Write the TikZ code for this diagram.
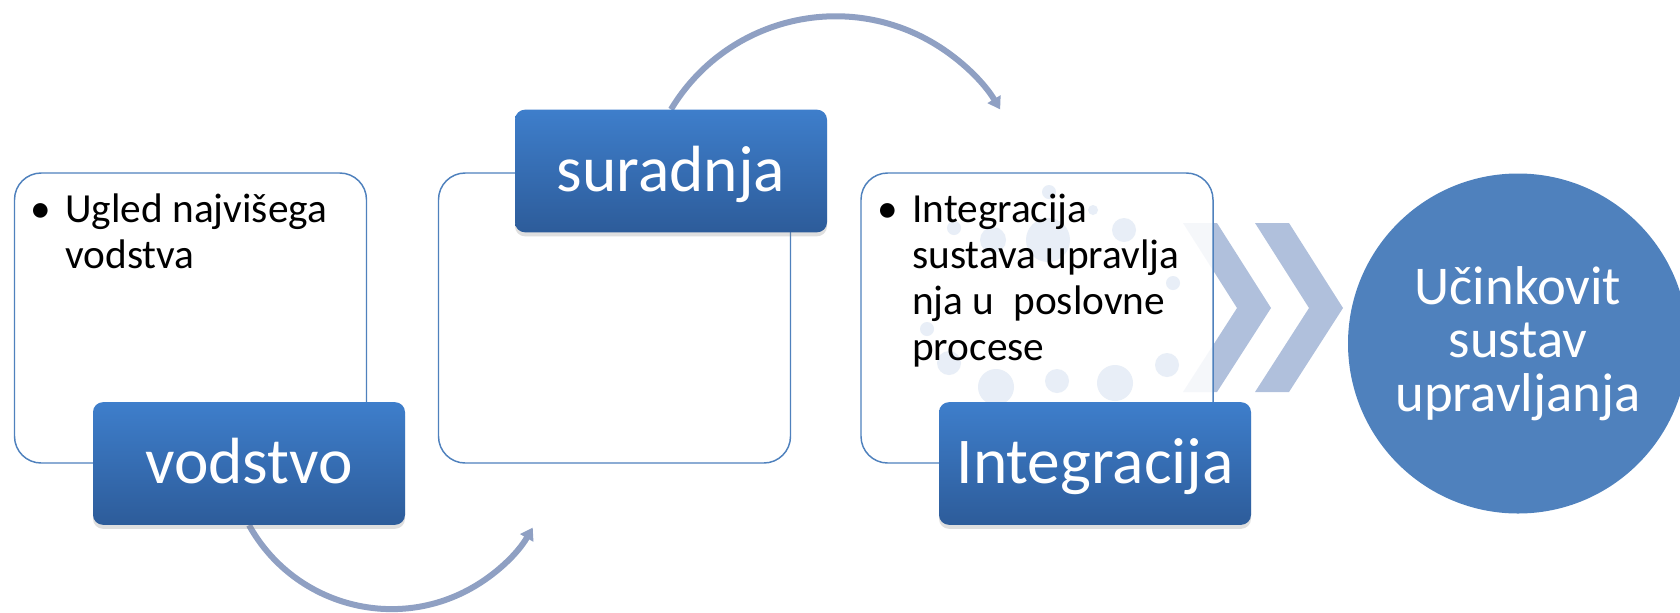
\documentclass[tikz,border=0pt]{standalone}
\usepackage{fontspec}
\setmainfont{Carlito}
\usepackage{tikz}
\usetikzlibrary{arrows.meta,shadows,backgrounds}

\definecolor{boxline}{RGB}{79,129,189}
\definecolor{tabtop}{RGB}{62,126,203}
\definecolor{tabbot}{RGB}{45,92,154}
\definecolor{chevcol}{RGB}{176,192,220}
\definecolor{bubblecol}{RGB}{232,238,247}
\definecolor{turncol}{RGB}{143,160,195}
\definecolor{goalcol}{RGB}{79,129,189}

\begin{document}
\begin{tikzpicture}[x=0.75pt,y=0.75pt,yscale=-1,xscale=1,
  panel/.style={draw=boxline, line width=1.1pt, rounded corners=20pt, fill=white,
    minimum width=264pt, minimum height=217.5pt, inner sep=0pt},
  tab/.style={rounded corners=7.5pt, top color=tabtop, bottom color=tabbot,
    minimum width=234pt, minimum height=92pt, inner sep=0pt, text=white,
    text height=36pt, text depth=6pt, font=\fontsize{49}{58}\selectfont,
    drop shadow={shadow xshift=0pt, shadow yshift=-3pt, opacity=0.25}},
  itemtext/.style={anchor=base west, inner sep=0pt, text width=217.5pt, align=flush left,
    font=\fontsize{31}{34.5}\selectfont},
  dotmark/.style={anchor=base west, inner sep=0pt, font=\fontsize{31}{34.5}\selectfont},
  goal/.style={circle, fill=goalcol, minimum size=255pt, inner sep=0pt, text=white,
    align=center, font=\fontsize{41}{40}\selectfont},
  turnarrow/.style={draw=turncol, line width=4.5pt, -{Triangle[length=9pt,width=11pt]}},
  chevron/.style={fill=chevcol},
  bubble/.style={fill=bubblecol}
]
\useasboundingbox (0,0) rectangle (1680,612);

%Chevrons
\fill[chevron] (1183,223) -- (1217,223) -- (1271,308) -- (1217,392) -- (1183,392) -- (1237,308) -- cycle;
\fill[chevron] (1255,223) -- (1289,223) -- (1343,308) -- (1289,392) -- (1255,392) -- (1309,308) -- cycle;

%Panels
\node[panel] (panA) at (190.5,318) {};
\node[panel] (panB) at (614.5,318) {};
\node[panel, fill opacity=0.88] (panC) at (1037,318) {};

%Bubbles
\foreach \cx/\cy/\r in {1049/192/7, 1093/210/5, 954/228/7, 993/240/13, 1048/240/22,
  1124/230/12, 1173/283/7, 927/329/7, 949/363/12, 996/387/18, 1057/381/12,
  1115/383/18, 1167/365/12}
  \fill[bubble] (\cx,\cy) circle[radius=\r];

% Text Node
\node[dotmark] (dotA) at (30,222) {•};
\node[itemtext] (itemA) at (65,222) {Ugled najvišega\\vodstva};
% Text Node
\node[dotmark] (dotC) at (877,222) {•};
\node[itemtext] (itemC) at (912,222) {Integracija\\sustava upravlja\\nja u~ poslovne\\procese};

%Tabs
\node[tab] (vodstvo) at (249,463.5) {vodstvo};
\node[tab] (suradnja) at (671,171) {suradnja};
\node[tab] (integracija) at (1095,463.5) {Integracija};

%Goal
\node[goal] (goal) at (1518,343.5) {Učinkovit\\sustav\\upravljanja};

%Curved arrows
\begin{scope}[on background layer]
\draw[turnarrow] (vodstvo.south) arc[start angle=151, end angle=30, radius=163];
\draw[turnarrow] (suradnja.north) arc[start angle=211, end angle=329, radius=192];
\end{scope}

\end{tikzpicture}
\end{document}
